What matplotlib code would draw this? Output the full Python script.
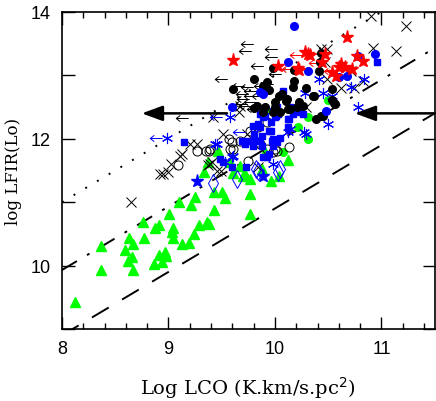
import matplotlib
matplotlib.use("Agg")
import matplotlib.pyplot as plt
import matplotlib.path as mpath
import numpy as np
from matplotlib.ticker import MultipleLocator, FuncFormatter

# data (x = log LCO, y = log LFIR)
tri_x = [8.12, 8.37, 8.37, 8.59, 8.63, 8.67, 8.66, 8.62, 8.67, 8.77, 8.76, 8.87, 8.91, 8.86,
         8.91, 8.94, 8.97, 8.98, 9.01, 9.04, 9.03, 9.04, 9.10, 9.13, 9.19, 9.21, 9.24, 9.25,
         9.29, 9.36, 9.38, 9.43, 9.43, 9.50, 9.53, 9.47, 9.33, 9.58, 9.67, 9.70, 9.77, 9.77,
         9.96, 10.04, 10.12, 9.77, 9.91, 9.61, 9.72, 9.88, 9.37, 9.92]
tri_y = [9.43, 10.31, 9.93, 10.25, 10.44, 10.34, 10.14, 10.07, 9.93, 10.44, 10.69, 10.59, 10.64, 10.03,
         10.17, 10.06, 10.21, 10.15, 10.81, 10.59, 10.53, 10.44, 11.00, 10.34, 10.36, 10.96, 10.50, 11.08,
         10.64, 10.69, 10.66, 10.88, 11.16, 11.16, 11.07, 11.81, 11.48, 11.63, 11.57, 11.41, 11.37, 11.13,
         11.33, 11.41, 11.67, 10.81, 11.79, 11.46, 11.44, 11.52, 11.63, 12.48]

gcirc_x = [10.50, 10.31, 10.22, 10.31, 10.08]
gcirc_y = [12.61, 12.34, 12.19, 12.00, 11.79]

kdot_x = [9.98, 10.18, 9.80, 9.61, 9.89, 10.18, 10.04, 10.10, 9.83, 9.91, 10.00, 9.98, 10.05, 10.14,
          10.21, 9.93, 9.94, 10.07, 10.00, 9.89, 9.80, 10.23, 10.26, 10.37, 10.41, 10.56, 10.54, 10.43,
          10.43, 10.42, 10.17, 10.36, 10.54, 10.55, 10.45, 10.39, 10.11, 10.12, 10.29]
kdot_y = [13.12, 13.09, 12.94, 12.79, 12.83, 12.91, 12.68, 12.60, 12.52, 12.50, 12.50, 12.42, 12.42, 12.47,
          12.50, 12.90, 12.77, 12.71, 12.58, 12.42, 12.49, 12.58, 12.52, 12.68, 13.07, 12.55, 12.61, 12.36,
          13.35, 13.21, 12.82, 12.68, 12.79, 12.56, 12.36, 12.31, 12.63, 12.47, 12.80]

bdot_x = [10.18, 10.12, 10.31, 10.78, 10.94, 10.60, 10.68, 10.48, 9.60, 9.86, 9.89]
bdot_y = [13.78, 13.21, 13.07, 13.31, 13.34, 12.98, 12.99, 12.44, 12.50, 12.74, 12.71]

bsq_x = [10.96, 10.08, 10.14, 10.02, 9.86, 9.89, 10.01, 10.17, 10.26, 9.79, 9.86, 9.80, 9.88, 9.94,
         9.98, 10.05, 9.69, 9.74, 9.80, 9.86, 9.88, 9.79, 9.72, 9.15, 9.94, 9.60, 9.73, 9.51,
         9.48, 9.91, 9.98, 10.03, 10.12, 10.12, 9.97, 10.02, 9.98, 9.93, 10.15, 10.24, 10.00, 9.96,
         10.13, 9.84, 9.96, 9.89]
bsq_y = [13.21, 12.75, 12.50, 12.50, 12.39, 12.34, 12.36, 12.39, 12.39, 12.20, 12.19, 12.08, 12.04, 12.12,
         12.00, 12.01, 11.97, 11.97, 11.97, 11.97, 11.89, 11.89, 11.92, 11.95, 11.76, 11.56, 11.56, 11.63,
         11.68, 12.36, 12.44, 12.39, 12.31, 12.19, 11.97, 11.95, 11.89, 11.71, 12.47, 12.42, 12.34, 12.26,
         12.31, 12.23, 12.12, 11.71]

rstar_x = [10.68, 10.28, 10.33, 10.44, 10.62, 10.60, 10.23, 10.72, 10.77, 10.83, 10.54, 10.57,
           9.61, 10.03, 10.22, 10.31, 10.47, 10.66]
rstar_y = [13.61, 13.37, 13.32, 13.21, 13.18, 13.13, 13.09, 13.10, 13.31, 13.23, 13.05, 12.99,
           13.24, 13.15, 13.12, 13.34, 13.34, 13.13]

rarr_x = [10.20, 10.38, 10.12, 10.52]
rarr_y = [13.32, 13.20, 13.10, 13.07]

bstar_x = [9.27, 9.89]
bstar_y = [11.33, 11.41]

bast_x = [10.41, 10.84, 10.28, 10.45, 10.78, 10.71, 10.54, 10.50, 10.29, 10.27, 9.44, 8.99,
          9.58, 9.61, 9.53, 9.98, 10.12, 10.14, 9.46, 9.60]
bast_y = [12.94, 12.94, 12.72, 12.72, 12.50, 12.82, 12.68, 12.23, 12.08, 12.11, 11.92, 12.01,
          12.34, 11.73, 11.63, 11.60, 12.11, 12.15, 11.92, 11.71]

barr_x = [9.45, 8.88, 9.66]
barr_y = [12.34, 12.01, 12.10]

bdia_x = [9.42, 9.64, 9.82, 9.84, 10.05, 10.03]
bdia_y = [11.30, 11.37, 11.52, 11.49, 11.52, 11.48]

kx_x = [10.90, 11.23, 11.14, 10.92, 10.43, 10.49, 10.47, 10.71, 10.83, 10.74, 10.62, 10.49,
        10.29, 9.67, 9.42, 9.51, 9.27, 9.20, 9.11, 9.00, 8.92, 9.41, 9.84, 9.46, 9.13, 9.02,
        8.95, 9.39, 9.49, 9.74, 9.66, 8.65, 9.37]
kx_y = [13.94, 13.78, 13.38, 13.43, 13.42, 13.42, 13.21, 13.07, 12.91, 12.80, 12.80, 12.94,
        12.50, 12.52, 12.34, 12.08, 11.92, 11.92, 11.73, 11.48, 11.44, 11.63, 11.56, 11.49, 11.76, 11.60,
        11.44, 11.60, 11.49, 12.08, 12.42, 11.00, 11.59]

kcirc_x = [9.27, 9.35, 9.39, 9.09, 9.58, 9.60, 9.67, 9.84, 9.93, 9.77, 10.02, 9.98, 9.75, 9.86,
           9.38, 9.84, 10.00, 9.57, 9.61, 9.93, 10.13]
kcirc_y = [11.81, 11.81, 11.84, 11.59, 11.84, 11.95, 11.97, 12.19, 12.26, 12.12, 11.81, 11.79, 11.65, 11.92,
           11.81, 11.95, 11.84, 12.00, 11.84, 11.84, 11.87]

karr_x = [9.74, 9.72, 9.96, 9.96, 9.83, 9.49, 9.65, 9.74, 9.77, 9.86, 9.93, 9.69, 9.77, 9.84,
          9.70, 9.77, 9.79, 10.00, 9.13, 9.72, 9.68]
karr_y = [13.50, 13.38, 13.42, 13.29, 13.15, 12.94, 12.83, 12.82, 12.75, 12.83, 12.86, 12.71, 12.68, 12.68,
          12.63, 12.58, 12.47, 13.02, 12.33, 12.52, 12.55]

# reference lines y = x + c
fit_dotted = 3.0
fit_dashdot = 1.93
fit_dashed = 0.9
line_x = np.array([8.0, 11.5])

arrow_y = 12.4

BLUE = (0, 0, 1)
GREEN = (0, 1, 0)
RED = (1, 0, 0)

# left pointing upper limit symbol
larrow = mpath.Path([(1, 0), (-1, 0), (-0.35, 0.5), (-1, 0), (-0.35, -0.5)],
                    [mpath.Path.MOVETO, mpath.Path.LINETO, mpath.Path.MOVETO,
                     mpath.Path.LINETO, mpath.Path.LINETO])

fig = plt.figure(figsize=(4.36, 4.02), dpi=100)
ax = fig.add_axes([0.142, 0.179, 0.855, 0.789])

ax.plot(line_x, line_x + fit_dotted, color='k', lw=1.4, ls=(0, (1, 6)))
ax.plot(line_x, line_x + fit_dashdot, color='k', lw=1.4, ls=(0, (9, 6, 1.5, 6)))
ax.plot(line_x, line_x + fit_dashed, color='k', lw=1.4, ls=(0, (10, 8)))

ax.plot(tri_x, tri_y, ls='none', marker='^', ms=7, color=GREEN, mec=GREEN)
ax.plot(gcirc_x, gcirc_y, ls='none', marker='o', ms=5.5, color=GREEN)
ax.plot(kx_x, kx_y, ls='none', marker='x', ms=6.5, color='k', mew=0.7)
ax.plot(kcirc_x, kcirc_y, ls='none', marker='o', ms=6.5, mfc='none', mec='k', mew=0.7)
ax.plot(karr_x, karr_y, ls='none', marker=larrow, ms=9, mfc='none', mec='k', mew=0.7)
ax.plot(barr_x, barr_y, ls='none', marker=larrow, ms=9, mfc='none', mec=BLUE, mew=0.7)
ax.plot(rarr_x, rarr_y, ls='none', marker=larrow, ms=9, mfc='none', mec=RED, mew=0.7)
ax.plot(bast_x, bast_y, ls='none', marker=(6, 2, 0), ms=8, color=BLUE, mew=0.8)
ax.plot(bdia_x, bdia_y, ls='none', marker='d', ms=9, mfc='none', mec=BLUE, mew=0.7)
ax.plot(bsq_x, bsq_y, ls='none', marker='s', ms=5, color=BLUE)
ax.plot(kdot_x, kdot_y, ls='none', marker='o', ms=5.5, color='k')
ax.plot(bdot_x, bdot_y, ls='none', marker='o', ms=5.5, color=BLUE)
ax.plot(rstar_x, rstar_y, ls='none', marker='*', ms=9.5, color=RED)
ax.plot(bstar_x, bstar_y, ls='none', marker='*', ms=9.5, color=BLUE)

arr = dict(arrowstyle='-|>,head_length=0.9,head_width=0.33', lw=1.8, color='k',
           shrinkA=0, shrinkB=0, mutation_scale=14)
ax.annotate('', xy=(8.75, arrow_y), xytext=(9.55, arrow_y), arrowprops=arr)
ax.annotate('', xy=(10.75, arrow_y), xytext=(11.5, arrow_y), arrowprops=arr)

ax.set_xlim(8, 11.5)
ax.set_ylim(9, 14)
ax.xaxis.set_major_locator(MultipleLocator(1))
ax.xaxis.set_minor_locator(MultipleLocator(0.2))
ax.yaxis.set_major_locator(MultipleLocator(1))
ax.yaxis.set_major_formatter(FuncFormatter(lambda v, p: '%d' % v if int(round(v)) % 2 == 0 else ''))
ax.tick_params(which='both', direction='in', top=True, right=True, width=1.0)
ax.tick_params(which='major', length=9, labelsize=13, pad=8)
ax.tick_params(which='minor', length=4.5)
for lab in ax.get_xticklabels() + ax.get_yticklabels():
    lab.set_family('Liberation Sans')
for s in ax.spines.values():
    s.set_linewidth(1.2)

ax.set_xlabel('Log LCO (K.km/s.pc$^2$)', family='DejaVu Serif', fontsize=14, labelpad=12)
ax.set_ylabel('log LFIR(Lo)', family='DejaVu Serif', fontsize=12, labelpad=6)

fig.savefig('out.png', dpi=100)
